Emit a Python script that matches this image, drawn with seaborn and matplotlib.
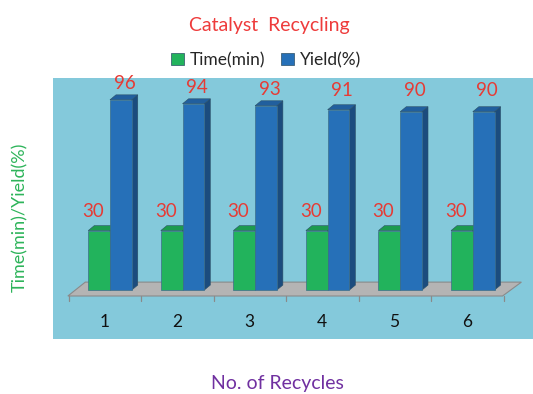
import numpy as np
import pandas as pd
import matplotlib
matplotlib.use("Agg")
import matplotlib.pyplot as plt
from matplotlib.patches import Polygon, Patch
import seaborn as sns

# data
recycles = ["1", "2", "3", "4", "5", "6"]
time_min = [30, 30, 30, 30, 30, 30]
yield_pct = [96, 94, 93, 91, 90, 90]
series = ["Time(min)", "Yield(%)"]

df = pd.DataFrame({
    "recycle": recycles * 2,
    "value": time_min + yield_pct,
    "series": [series[0]] * 6 + [series[1]] * 6,
})

front = {"Time(min)": "#22B35C", "Yield(%)": "#2670B8"}
side = {"Time(min)": "#178A44", "Yield(%)": "#1B4C7E"}
top = {"Time(min)": "#1C9A4E", "Yield(%)": "#215F9E"}

sns.set_style("white")
plt.rcParams["font.family"] = ["Lato", "DejaVu Sans"]

fig = plt.figure(figsize=(5.33, 3.94), dpi=100)
ax = fig.add_axes([53 / 533, 55 / 394, 480 / 533, 261 / 394])
ax.set_facecolor("#84C9DB")

sns.barplot(data=df, x="recycle", y="value", hue="series", palette=front,
            width=0.6, dodge=True, saturation=1, legend=False, ax=ax, zorder=3,
            edgecolor="#3d6f8a", linewidth=0.5)

ax.set_xlim(-0.785, 5.83)
ax.set_ylim(-24.7, 107)

# fake 3d depth
dx, dy = 0.083, 2.5
n = len(recycles)
for i, p in enumerate(ax.patches):
    s = series[i // n]
    x0, w, h = p.get_x(), p.get_width(), p.get_height()
    ax.add_patch(Polygon([(x0 + w, 0), (x0 + w + dx, dy), (x0 + w + dx, h + dy), (x0 + w, h)],
                         closed=True, fc=side[s], ec="#2b4f66", lw=0.4, zorder=2.9))
    ax.add_patch(Polygon([(x0, h), (x0 + dx, h + dy), (x0 + w + dx, h + dy), (x0 + w, h)],
                         closed=True, fc=top[s], ec="#2b4f66", lw=0.4, zorder=2.9))
    if s == "Time(min)":
        ax.text(x0 + w / 2 - 0.08, h + 9.5, f"{h:.0f}", ha="center", va="center",
                color="#E63B35", fontsize=13.5)
    else:
        ax.text(x0 + w / 2 + 0.05, max(h + 8, 100.5), f"{h:.0f}", ha="center", va="center",
                color="#E63B35", fontsize=13.5)

# floor
ax.add_patch(Polygon([(-0.58, -3), (5.41, -3), (5.67, 4), (-0.34, 4)], closed=True,
                     fc="#B4B4B4", ec="#8a8a8a", lw=0.8, zorder=1))
for i in range(n + 1):
    ax.plot([i - 0.57, i - 0.57], [-3, -5.5], color="#8a8a8a", lw=0.9, zorder=1)

for i, r in enumerate(recycles):
    ax.text(i - 0.08, -16, r, ha="center", va="center", fontsize=12.5, color="#111111")

ax.set_xticks([])
ax.set_yticks([])
ax.set_xlabel("")
ax.set_ylabel("")
for sp in ax.spines.values():
    sp.set_visible(False)

fig.text(269 / 533, 1 - 25 / 394, "Catalyst  Recycling", ha="center", va="center",
         color="#EE3B3B", fontsize=14)
fig.text(20 / 533, 1 - 217 / 394, "Time(min)/Yield(%)", rotation=90, ha="center", va="center",
         color="#2DB45A", fontsize=13)
fig.text(277 / 533, 1 - 383 / 394, "No. of Recycles", ha="center", va="center",
         color="#7030A0", fontsize=14)

handles = [Patch(fc=front[s], ec="#2b4f66", lw=0.5, label=s) for s in series]
fig.legend(handles=handles, loc="center", bbox_to_anchor=(266 / 533, 1 - 60 / 394), ncol=2,
           frameon=False, fontsize=12.5, handlelength=0.75, handleheight=0.75,
           handletextpad=0.35, columnspacing=0.9)

fig.savefig("out.png", dpi=100)
